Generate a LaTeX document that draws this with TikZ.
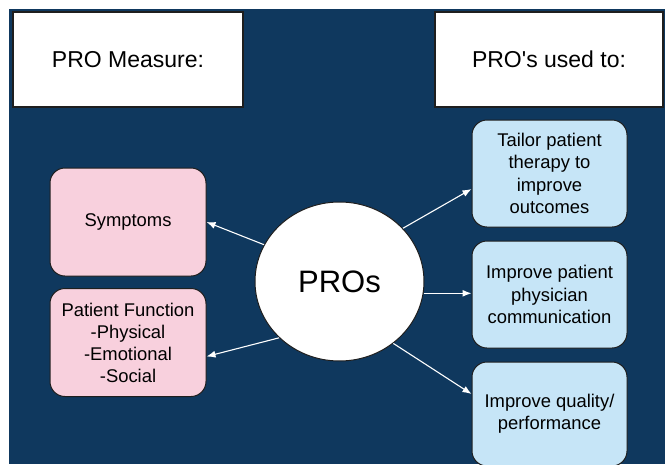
\documentclass[tikz,border=0pt]{standalone}
\usepackage{fontspec}
\setmainfont{Liberation Sans}
\usetikzlibrary{shapes.geometric,arrows.meta,calc}
\definecolor{bgblue}{HTML}{0F385E}
\definecolor{pinkbox}{HTML}{F8D0DD}
\definecolor{bluebox}{HTML}{C6E5F7}
\definecolor{edge}{HTML}{1E1E1E}
\tikzset{
  header/.style={draw=edge, line width=1.3pt, fill=white, minimum width=230pt, minimum height=95pt, inner sep=0pt, font=\fontsize{23}{27}\selectfont},
  pinkstyle/.style={draw=edge, line width=1pt, fill=pinkbox, rounded corners=15pt, minimum width=156pt, minimum height=108pt, inner sep=0pt, align=center, font=\fontsize{18.4}{22}\selectfont},
  bluestyle/.style={draw=edge, line width=1pt, fill=bluebox, rounded corners=15pt, minimum width=155pt, minimum height=107pt, inner sep=0pt, align=center, font=\fontsize{18.4}{22.3}\selectfont},
  conn/.style={draw=white, line width=1.1pt, -{Latex[length=9pt,width=7pt]}}
}
\begin{document}
\begin{tikzpicture}[x=1pt,y=-1pt]
\useasboundingbox (0,0) rectangle (665,464);
\fill[white] (0,0) rectangle (665,464);
\fill[bgblue] (8.5,9) rectangle (665,464);
\node[header] (h1) at (128,59.5) {PRO Measure:};
\node[header, minimum width=228pt] (h2) at (549,59.5) {PRO\textquotesingle s used to:};
\node[pinkstyle] (sym) at (128,222) {Symptoms};
\node[pinkstyle] (pf) at (128,342.5) {Patient Function\\-Physical\\-Emotional\\-Social};
\node[bluestyle] (t1) at (549.5,173.5) {Tailor patient\\therapy to\\improve\\outcomes};
\node[bluestyle] (t2) at (549.5,294.5) {Improve patient\\physician\\communication};
\node[bluestyle, minimum height=104pt] (t3) at (549.5,414) {Improve quality/\\performance};
\node[ellipse, draw=edge, line width=1pt, fill=white, minimum width=169pt, minimum height=159pt, inner sep=0pt, font=\fontsize{31}{36}\selectfont] (pros) at (339.5,281.5) {PROs};
\draw[conn] (pros.154) -- (sym.east);
\draw[conn] (pros.223) -- ([yshift=-14pt]pf.east);
\draw[conn] (pros.40) -- ([yshift=-15.5pt]t1.west);
\draw[conn] (pros.-8) -- (pros.-8 -| t2.west);
\draw[conn] (pros.-49) -- ([yshift=20pt]t3.west);
\end{tikzpicture}
\end{document}
